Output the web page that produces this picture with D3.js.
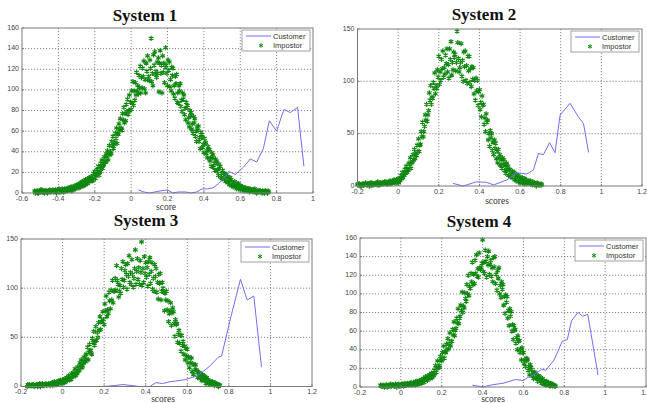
<!DOCTYPE html>
<html>
<head>
<meta charset="utf-8">
<script src="https://cdn.jsdelivr.net/npm/d3@7"></script>
<style>
  body { margin: 0; background: #fff; }
  svg { display: block; }
</style>
</head>
<body>
<svg id="viz" width="647" height="403"></svg>
<script>
'use strict';

// ---- tick labels ----
var xTicks1 = [-0.6, -0.4, -0.2, 0, 0.2, 0.4, 0.6, 0.8, 1];
var xTicks = [-0.2, 0, 0.2, 0.4, 0.6, 0.8, 1, 1.2];
var yTicks160 = [0, 20, 40, 60, 80, 100, 120, 140, 160];
var yTicks150 = [0, 50, 100, 150];

// ---- score bins (histogram bin centres, step 0.01) ----
var bins1 = d3.range(-53, 76).map(function(d) { return d / 100; });
var bins2 = d3.range(-20, 71).map(function(d) { return d / 100; });
var bins3 = d3.range(-17, 76).map(function(d) { return d / 100; });
var bins4 = d3.range(-10, 76).map(function(d) { return d / 100; });
// the three impostor rows sit a third of a bin apart
var rowShift = [0, 0.0033, 0.0067];

// ---- impostor counts (three scatter rows per system) ----
var imp1A = [2,1,0,1,3,1,2,0,2, 1,3,2,0,2, 3,4,1,3,2, 4,6,3,7,5, 8,6,11,7,13, 9,15,16,12,21, 18,26,21,32,28, 30,41,46,38,55, 49,63,57,72,61, 83,70,91,95,81, 108,90,117,96,123, 102,128,97,133,109, 150,104,137,112,131, 138,97,126,141,104, 127,99,121,92,115, 87,106,79,95,71, 85,64,78,58,72, 50,65,43,57,39, 49,34,42,26,37, 22,31,17,26,14, 19,11,16,8,13, 6,11,4,9,3, 6,2,5,3,1, 3,1,4,0,2, 2,0,1,2,0];
var imp1B = [0,2,1,3,1,0,2,1,3, 2,1,3,2,4, 1,3,4,2,5, 3,2,6,4,8, 5,10,7,12,9, 14,11,13,19,14, 23,17,29,24,35, 38,32,37,50,43, 58,48,67,62,77, 68,86,76,80,99, 85,107,99,114,97, 121,101,126,110,129, 108,134,115,127,98, 116,133,107,124,129, 103,122,96,113,88, 104,84,97,76,88, 68,80,62,74,55, 64,50,59,44,53, 38,45,31,39,25, 33,21,28,15,22, 13,18,10,15,7, 10,6,9,5,7, 3,5,2,4,4, 2,3,1,2,1, 1,2,0,1,2];
var imp1C = [1,0,2,1,1,2,1,2,1, 2,2,1,3,1, 2,1,3,4,3, 5,4,5,6,7, 6,9,9,8,11, 12,14,12,17,18, 21,20,25,27,31, 35,39,40,46,47, 53,58,62,63,71, 77,79,80,88,87, 99,95,104,102,112, 113,110,118,113,121, 116,124,118,116,126, 124,117,122,116,119, 110,114,104,106,97, 99,90,91,82,83, 73,75,67,68,60, 61,54,54,47,48, 41,42,34,34,29, 29,23,24,19,19, 15,16,12,13,9, 9,7,8,5,6, 4,4,3,4,2, 3,2,2,1,2, 1,1,2,1,1];

var imp2A = [1,2,0,1,3, 2,0,3,1,2, 4,1,3,2,4, 2,5,3,6,3, 7,5,13,10,19, 15,27,23,35,29, 45,40,61,57,78, 72,96,84,108,93, 124,101,129,107,131, 103,138,111,126,148, 109,136,100,129,98, 124,95,113,82,101, 92,66,78,52,63, 38,50,30,41,22, 30,17,25,12,19, 16,8,13,5,10, 3,8,2,6,4, 5,1,3,0,2, 1];
var imp2B = [2,0,2,1,1, 1,3,1,2,3, 1,3,2,4,2, 4,2,5,3,6, 3,10,8,16,13, 22,17,30,26,39, 33,52,47,68,62, 89,78,99,88,111, 97,121,104,125,109, 131,106,128,110,137, 113,105,128,101,124, 99,114,88,103,77, 73,86,59,69,44, 53,34,44,26,35, 20,27,15,22,10, 9,14,6,11,4, 8,3,7,2,5, 2,4,1,3,1, 2];
var imp2C = [1,1,1,2,1, 2,1,2,2,1, 2,2,3,3,2, 3,3,4,5,4, 6,7,11,12,16, 19,22,25,31,33, 39,47,52,63,68, 82,85,93,96,104, 109,112,113,117,116, 121,118,123,118,122, 118,120,114,115,110, 112,102,101,91,90, 80,77,65,61,50, 46,42,36,33,27, 25,21,20,16,15, 11,12,8,9,6, 6,5,5,4,3, 3,2,2,2,1, 1];

var imp3A = [0,2,1, 2,1,0,3,2, 1,3,2,1,4, 5,2,3,6,7, 4,9,11,7,14, 18,13,16,27,24, 25,40,43,33,56, 61,50,71,66,63, 92,74,79,108,97, 123,91,95,127,118, 99,133,104,101,139, 130,104,147,106,126, 102,131,126,97,120, 89,115,106,77,97, 66,85,80,51,64, 57,36,46,27,38, 19,29,12,22,9, 14,6,11,3,7, 2,5,1,3,0];
var imp3B = [2,1,2, 0,2,2,0,3, 2,1,3,2,1, 2,5,6,3,4, 8,6,7,13,10, 11,20,24,19,30, 33,27,36,49,42, 47,65,58,76,84, 71,96,98,85,110, 108,97,120,101,124, 125,106,129,110,104, 109,128,103,132,111, 127,105,99,124,96, 114,88,100,95,78, 74,62,76,68,45, 44,52,33,39,24, 29,15,22,17,14, 8,12,6,9,4, 5,2,4,1,2];
var imp3C = [1,1,1, 1,2,1,2,1, 2,2,2,3,3, 3,3,5,4,6, 6,8,8,11,12, 15,16,21,21,26, 28,35,37,45,46, 55,57,66,68,77, 78,87,88,97,98, 104,103,109,108,114, 112,116,114,120,117, 121,116,120,115,121, 114,117,110,112,106, 105,97,96,88,87, 77,75,64,63,53, 52,42,41,31,30, 24,23,17,16,11, 12,8,9,5,5, 3,4,2,2,1];

var imp4A = [2,1,0,2,1, 3,2,1,0,3, 1,3,4,2,2, 5,3,2,6,7, 4,9,11,7,13, 15,12,23,28,21, 28,44,37,52,58, 49,70,63,84,76, 102,85,92,120,106, 134,111,142,118,126, 158,122,118,146,136, 113,140,104,128,96, 110,79,97,66,81, 51,62,40,50,29, 37,22,30,13,19, 9,15,6,11,4, 7,2,5,1,3, 2];
var imp4B = [1,2,1,0,2, 1,2,3,2,1, 3,1,2,4,3, 2,5,6,3,4, 8,5,8,12,9, 10,18,16,21,33, 37,31,46,41,44, 62,55,74,68,88, 80,101,110,98,122, 110,136,119,144,128, 124,147,140,121,119, 139,111,125,100,113, 88,99,74,84,60, 66,47,55,37,42, 25,31,18,24,12, 16,9,12,6,9, 3,6,2,4,1, 1];
var imp4C = [1,1,2,1,1, 2,1,2,2,2, 2,2,3,3,3, 3,4,4,5,6, 6,7,9,10,11, 13,14,20,23,29, 31,38,40,47,49, 56,61,69,74,82, 87,95,100,108,113, 121,122,127,128,133, 134,135,131,132,128, 129,121,117,109,105, 97,91,82,76,67, 61,53,49,41,37, 29,28,22,21,15, 14,10,10,7,7, 5,4,3,3,2, 1];

// ---- customer curves ----
var cust1X = [0.04,0.07,0.1,0.13,0.16,0.2,0.23,0.26,0.3,0.33,0.36,0.39,0.42,0.45,0.48,0.51,0.536,0.573,0.618,0.655,0.69,0.727,0.76,0.8,0.84,0.875,0.915,0.95];
var cust1Y = [3,1,0,1,2,3,0,1,1,0,1,4,4,5,9,14,21,18,25,33,30,43,70,60,81,78,83,26];
var cust2X = [0.27,0.32,0.386,0.436,0.47,0.534,0.584,0.633,0.666,0.69,0.715,0.745,0.772,0.797,0.846,0.887,0.912,0.937];
var cust2Y = [2.5,0,4,3.5,1,5.7,12.7,11.5,15.3,31,30,41.4,31.8,67.8,79,66,59.8,32];
var cust3X = [0.2,0.25,0.29,0.33,0.37,0.42,0.45,0.48,0.52,0.56,0.59,0.65,0.71,0.75,0.765,0.81,0.856,0.888,0.92,0.957];
var cust3Y = [0,1,2,1,0,0,4,3,5,6,7,11,21,30,31,71,109,88,92,20];
var cust4X = [0.35,0.4,0.45,0.5,0.56,0.6,0.62,0.65,0.69,0.71,0.75,0.79,0.815,0.835,0.867,0.89,0.915,0.965];
var cust4Y = [2,0,2.5,4,8,7,10,13,19,18,29,49,51,71,80,76,78,13];

var green = "#118811";
var blue = "#6f6ff2";
var star = d3.symbol().type(d3.symbolAsterisk).size(19);
var tickFont = "7px 'Liberation Sans', Arial, sans-serif";

var svg = d3.select("#viz");

function fmt(d) { return String(+d.toFixed(1)); }

function drawPanel(p) {
    var x = d3.scaleLinear().domain(p.xd).range([p.l, p.r]);
    var y = d3.scaleLinear().domain(p.yd).range([p.b, p.t]);
    var g = svg.append("g");

    // dotted grid
    g.selectAll(".vg").data(p.xt.slice(1, -1)).enter().append("line")
        .attr("x1", function(d) { return x(d); }).attr("x2", function(d) { return x(d); })
        .attr("y1", p.t).attr("y2", p.b)
        .attr("stroke", "#666").attr("stroke-width", 0.8).attr("stroke-dasharray", "1.2,1.8");
    g.selectAll(".hg").data(p.yt.slice(1, -1)).enter().append("line")
        .attr("y1", function(d) { return y(d); }).attr("y2", function(d) { return y(d); })
        .attr("x1", p.l).attr("x2", p.r)
        .attr("stroke", "#666").attr("stroke-width", 0.8).attr("stroke-dasharray", "1.2,1.8");

    // tick labels
    g.selectAll(".xl").data(p.xt).enter().append("text")
        .attr("x", function(d) { return x(d); }).attr("y", p.b + 7.5)
        .attr("text-anchor", "middle")
        .style("font", tickFont).attr("fill", "#444")
        .text(fmt);
    g.selectAll(".yl").data(p.yt).enter().append("text")
        .attr("x", p.l - 3).attr("y", function(d) { return y(d) + 1.5; })
        .attr("text-anchor", "end")
        .style("font", tickFont).attr("fill", "#444")
        .text(fmt);

    // impostor scatter
    p.imp.forEach(function(row, k) {
        g.selectAll(null).data(row).enter().append("path")
            .attr("d", star)
            .attr("transform", function(d, i) {
                return "translate(" + x(p.bins[i] + rowShift[k]) + "," + y(d) + ")";
            })
            .attr("fill", "none").attr("stroke", green).attr("stroke-width", 1.2);
    });

    // customer line
    var line = d3.line()
        .x(function(d, i) { return x(p.cx[i]); })
        .y(function(d) { return y(d); });
    g.append("path").datum(p.cy)
        .attr("d", line)
        .attr("fill", "none").attr("stroke", blue).attr("stroke-width", 1);

    // frame + small inward ticks
    g.append("rect")
        .attr("x", p.l).attr("y", p.t)
        .attr("width", p.r - p.l).attr("height", p.b - p.t)
        .attr("fill", "none").attr("stroke", "#7a7a7a").attr("stroke-width", 1);
    g.selectAll(".xt").data(p.xt).enter().append("line")
        .attr("x1", function(d) { return x(d); }).attr("x2", function(d) { return x(d); })
        .attr("y1", p.b).attr("y2", p.b - 2).attr("stroke", "#7a7a7a");
    g.selectAll(".yt").data(p.yt).enter().append("line")
        .attr("y1", function(d) { return y(d); }).attr("y2", function(d) { return y(d); })
        .attr("x1", p.l).attr("x2", p.l + 2).attr("stroke", "#7a7a7a");

    // legend
    var lx = p.r - 71, ly = p.t + 2;
    g.append("rect")
        .attr("x", lx).attr("y", ly).attr("width", 68).attr("height", 21)
        .attr("fill", "#fff").attr("stroke", "#8a8a8a").attr("stroke-width", 0.8);
    g.append("line")
        .attr("x1", lx + 4).attr("x2", lx + 29).attr("y1", ly + 6).attr("y2", ly + 6)
        .attr("stroke", blue).attr("stroke-width", 1);
    g.append("path").attr("d", d3.symbol().type(d3.symbolAsterisk).size(14))
        .attr("transform", "translate(" + (lx + 19) + "," + (ly + 15.5) + ")")
        .attr("fill", "none").attr("stroke", green).attr("stroke-width", 1);
    g.append("text").attr("x", lx + 31).attr("y", ly + 8.5)
        .style("font", "7.5px 'Liberation Sans', Arial, sans-serif").attr("fill", "#333")
        .text("Customer");
    g.append("text").attr("x", lx + 31).attr("y", ly + 18)
        .style("font", "7.5px 'Liberation Sans', Arial, sans-serif").attr("fill", "#333")
        .text("Impostor");

    // title and axis label
    svg.append("text").attr("x", p.tx).attr("y", p.ty)
        .attr("text-anchor", "middle")
        .style("font", "bold 17px 'Liberation Serif', 'Times New Roman', serif")
        .attr("fill", "#111")
        .text(p.title);
    svg.append("text").attr("x", p.lbx).attr("y", p.lby)
        .attr("text-anchor", "middle")
        .style("font", "9.5px 'Liberation Serif', 'Times New Roman', serif")
        .attr("fill", "#333")
        .text(p.xlabel);
}

drawPanel({ l: 22, r: 313, t: 28, b: 193, xd: [-0.6, 1], yd: [0, 160],
    xt: xTicks1, yt: yTicks160, bins: bins1, imp: [imp1A, imp1B, imp1C],
    cx: cust1X, cy: cust1Y, title: "System 1", tx: 145, ty: 21,
    xlabel: "score", lbx: 166, lby: 210 });
drawPanel({ l: 357.5, r: 642, t: 29, b: 186, xd: [-0.2, 1.2], yd: [0, 150],
    xt: xTicks, yt: yTicks150, bins: bins2, imp: [imp2A, imp2B, imp2C],
    cx: cust2X, cy: cust2Y, title: "System 2", tx: 484, ty: 20,
    xlabel: "scores", lbx: 497, lby: 204 });
drawPanel({ l: 21, r: 312, t: 239, b: 386.5, xd: [-0.2, 1.2], yd: [0, 150],
    xt: xTicks, yt: yTicks150, bins: bins3, imp: [imp3A, imp3B, imp3C],
    cx: cust3X, cy: cust3Y, title: "System 3", tx: 146, ty: 226,
    xlabel: "scores", lbx: 163, lby: 402 });
drawPanel({ l: 360, r: 646, t: 238, b: 387, xd: [-0.2, 1.2], yd: [0, 160],
    xt: xTicks, yt: yTicks160, bins: bins4, imp: [imp4A, imp4B, imp4C],
    cx: cust4X, cy: cust4Y, title: "System 4", tx: 479, ty: 227,
    xlabel: "scores", lbx: 493, lby: 402 });
</script>
</body>
</html>
